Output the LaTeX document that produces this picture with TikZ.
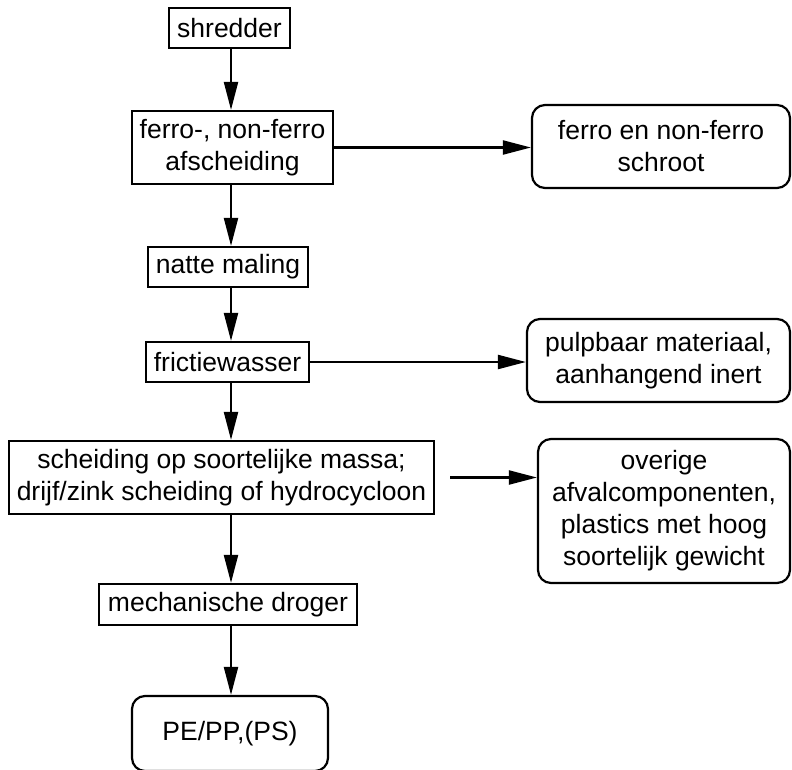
\documentclass[tikz,border=0pt]{standalone}
\usepackage{fontspec}
\setmainfont{Liberation Sans}
\usetikzlibrary{arrows.meta}
\begin{document}
\begin{tikzpicture}[x=1pt,y=-1pt,
  every node/.style={font=\fontsize{26.5}{32}\selectfont, align=center, inner sep=0pt},
  procbox/.style={draw, line width=2.2pt},
  resultbox/.style={draw, line width=2.2pt, rounded corners=13pt},
  flow/.style={line width=2.2pt, -{Triangle[length=28pt,width=14pt]}}]
\useasboundingbox (0,0) rectangle (792,769);
\clip (0,0) rectangle (792,769);

% main process column
\node[procbox, minimum width=121pt, minimum height=40pt] (shredder) at (229.5,28) {shredder};
\node[procbox, minimum width=201pt, minimum height=73pt] (ferro) at (232.5,147.5) {ferro-, non-ferro\\afscheiding};
\node[procbox, minimum width=160pt, minimum height=40pt] (natte) at (228,267) {natte maling};
\node[procbox, minimum width=163pt, minimum height=40pt] (frictie) at (227.5,362) {frictiewasser};
\node[procbox, minimum width=425pt, minimum height=73pt] (scheiding) at (221.5,477.5) {scheiding op soortelijke massa;\\drijf/zink scheiding of hydrocycloon};
\node[procbox, minimum width=258pt, minimum height=41pt] (droger) at (228,604.5) {mechanische droger};
\node[resultbox, minimum width=196pt, minimum height=75pt] (product) at (230,733.5) {PE/PP,(PS)};

% side streams
\node[resultbox, minimum width=258pt, minimum height=83pt] (schroot) at (661,146.5) {ferro en non-ferro\\schroot};
\node[resultbox, minimum width=263pt, minimum height=83pt] (pulp) at (658.5,360.5) {pulpbaar materiaal,\\aanhangend inert};
\node[resultbox, minimum width=252pt, minimum height=144pt] (overige) at (664,511) {overige\\afvalcomponenten,\\plastics met hoog\\soortelijk gewicht};

% vertical flow line
\coordinate (spine) at (231,0);
\draw[flow] (shredder.south -| spine) -- (ferro.north -| spine);
\draw[flow] (ferro.south -| spine) -- (natte.north -| spine);
\draw[flow] (natte.south -| spine) -- (frictie.north -| spine);
\draw[flow] (frictie.south -| spine) -- (scheiding.north -| spine);
\draw[flow] (scheiding.south -| spine) -- (droger.north -| spine);
\draw[flow] (droger.south -| spine) -- (product.north -| spine);

% branches to the side streams
\draw[flow] (ferro.east) -- (ferro.east -| schroot.west);
\draw[flow] (frictie.east) -- (frictie.east -| pulp.west);
\draw[flow] ([xshift=15pt]scheiding.east) -- (scheiding.east -| overige.west);
\end{tikzpicture}
\end{document}
